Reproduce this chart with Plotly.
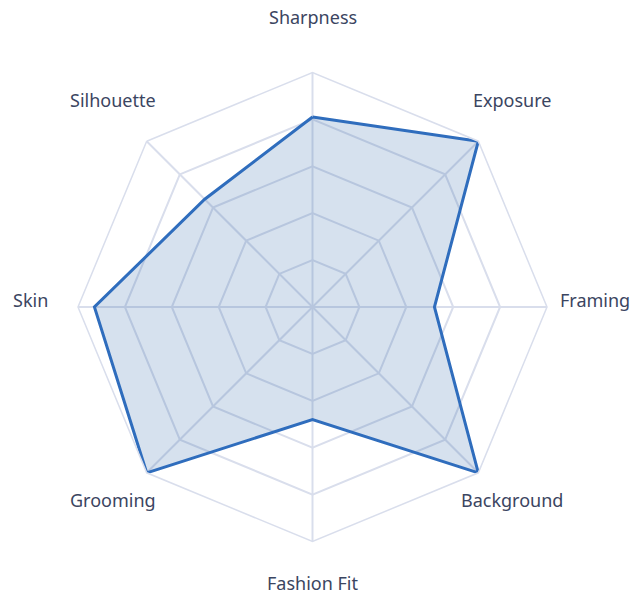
import math
import plotly.graph_objects as go

categories = ["Sharpness", "Exposure", "Framing", "Background",
              "Fashion Fit", "Grooming", "Skin", "Silhouette"]
scores = [81, 100, 52, 100, 48, 100, 93, 65]
grid_values = [20, 40, 60, 80, 100]

W, H = 637, 598
cx, cy, R = 312.5, 307, 235
ml = cx - R
mr = W - cx - R
mt = cy - R
mb = H - cy - R

grid_color = "#d9deec"
line_color = "#2f6dbd"
text_color = "#3b4561"

fig = go.Figure()
fig.add_trace(go.Scatterpolar(
    r=scores + scores[:1],
    theta=categories + categories[:1],
    mode="lines",
    line=dict(color=line_color, width=3),
    fill="toself",
    fillcolor="rgba(50,105,170,0.2)",
    hoverinfo="skip",
    showlegend=False,
))

# category labels as annotations centered at fixed radius
label_r = 283 / (2 * R)
label_dy = 7 / (2 * R)
annotations = []
n = len(categories)
for i, c in enumerate(categories):
    ang = math.radians(90 - 360 * i / n)
    annotations.append(dict(
        text=c, xref="paper", yref="paper",
        x=0.5 + label_r * math.cos(ang),
        y=0.5 + label_r * math.sin(ang) + label_dy,
        xanchor="center", yanchor="middle", showarrow=False,
        font=dict(size=18, color=text_color, family="Noto Sans"),
    ))

fig.update_layout(
    width=W, height=H,
    margin=dict(l=ml, r=mr, t=mt, b=mb, pad=0),
    paper_bgcolor="white",
    plot_bgcolor="white",
    font=dict(family="Noto Sans", color=text_color, size=18),
    annotations=annotations,
    polar=dict(
        bgcolor="white",
        gridshape="linear",
        domain=dict(x=[0, 1], y=[0, 1]),
        radialaxis=dict(
            range=[0, 100], tickvals=grid_values, showticklabels=False,
            ticks="", showline=False, gridcolor=grid_color, gridwidth=1.5,
        ),
        angularaxis=dict(
            direction="clockwise", rotation=90,
            showticklabels=False, ticks="",
            showline=True, linecolor=grid_color, linewidth=1.5,
            gridcolor=grid_color, gridwidth=1.5,
        ),
    ),
)

fig.write_html("out.html", config={"displayModeBar": False},
               post_script="document.body.style.margin='0';")
